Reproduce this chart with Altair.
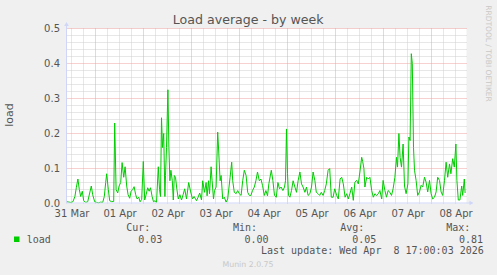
import altair as alt
import pandas as pd

# ---- data (hours since 2026-03-31 00:00, load) ----
hours = [
    9.7, 10.7, 11.7, 12.7, 13.7, 14.4, 15.2, 15.9, 16.6, 17.4,
    18.1, 19.1, 20.1, 21.1, 21.9, 22.6, 23.6, 24.6, 25.6, 26.6,
    27.6, 28.4, 29.1, 29.6, 30.4, 31.1, 32.1, 33.1, 33.6, 34.3,
    35.1, 35.8, 36.6, 37.3, 38.1, 38.8, 39.6, 40.3, 41.1, 41.8,
    42.6, 43.3, 44.1, 44.8, 45.6, 46.3, 47.1, 47.9, 48.6, 49.3,
    50.1, 50.8, 51.5, 52.3, 53.0, 53.8, 54.5, 55.4, 56.0, 56.5,
    57.0, 57.5, 58.1, 58.7, 59.0, 59.5, 60.2, 60.7, 61.2, 61.7,
    62.4, 62.9, 63.4, 64.0, 64.7, 65.4, 66.2, 67.0, 67.8, 68.6,
    69.5, 70.6, 71.6, 72.5, 73.3, 74.5, 75.3, 76.1, 77.0, 77.6,
    78.5, 79.3, 79.8, 80.5, 81.0, 81.8, 82.3, 83.0, 83.5, 84.3,
    85.1, 85.6, 86.3, 86.8, 87.6, 88.4, 89.3, 90.1, 91.3, 92.1,
    92.6, 93.4, 94.3, 95.1, 95.9, 96.8, 97.6, 98.4, 99.3, 100.1,
    100.9, 101.7, 102.5, 103.4, 104.2, 105.0, 105.9, 106.7, 107.5, 108.4,
    109.2, 110.0, 110.7, 111.9, 112.7, 113.5, 114.4, 115.2, 116.0, 116.8,
    117.7, 118.5, 119.0, 119.5, 120.0, 120.5, 121.2, 122.0, 122.8, 123.7,
    124.5, 125.3, 126.2, 127.0, 127.8, 128.7, 129.5, 130.3, 131.2, 132.0,
    132.8, 133.7, 134.4, 135.3, 136.1, 136.9, 137.8, 138.6, 139.4, 140.3,
    141.1, 141.9, 142.8, 143.6, 144.6, 145.4, 146.3, 147.1, 147.9, 148.8,
    149.6, 150.4, 151.2, 152.1, 152.9, 153.7, 154.6, 155.4, 156.2, 157.1,
    157.6, 158.2, 158.7, 159.6, 160.4, 161.2, 162.1, 162.9, 163.7, 164.6,
    165.4, 166.2, 167.1, 167.8, 168.7, 169.5, 170.3, 171.2, 172.0, 172.8,
    173.7, 174.5, 175.0, 175.7, 176.3, 177.0, 177.8, 178.5, 179.3, 180.2,
    180.7, 181.3, 181.9, 182.4, 183.0, 183.5, 184.3, 185.1, 186.0, 186.8,
    187.6, 188.5, 189.3, 190.1, 191.0, 191.8, 192.6, 193.5, 194.3, 195.1,
    196.0, 196.8, 197.6, 198.5, 199.3, 200.1, 201.0, 201.7, 202.6, 203.4,
    204.2, 204.7, 205.4, 206.2, 207.1, 207.6, 208.4, 208.8,
]
load = [
    .005, .004, .003, .005, .02, .045, .07, .04, .02, .035,
    .008, .003, .005, .03, .05, .025, .005, .003, .002, .004,
    .003, .02, .06, .085, .04, .008, .005, .006, .23, .04,
    .03, .05, .06, .117, .075, .105, .05, .025, .015, .035,
    .04, .048, .025, .013, .018, .005, .012, .12, .01, .025,
    .045, .035, .045, .02, .005, .008, .003, .105, .04, .02,
    .245, .16, .2, .02, .08, .16, .325, .16, .065, .095,
    .065, .01, .08, .075, .04, .013, .025, .01, .025, .042,
    .013, .06, .033, .013, .02, .008, .018, .03, .01, .065,
    .032, .06, .022, .065, .028, .105, .065, .013, .037, .047,
    .204, .15, .065, .08, .013, .018, .004, .013, .075, .118,
    .065, .032, .028, .037, .028, .023, .065, .095, .08, .032,
    .023, .023, .037, .047, .065, .09, .065, .07, .052, .023,
    .037, .022, .057, .095, .065, .023, .018, .06, .042, .047,
    .037, .047, .065, .213, .085, .023, .018, .037, .065, .047,
    .032, .065, .09, .056, .047, .032, .047, .023, .028, .047,
    .09, .065, .032, .028, .023, .032, .023, .037, .056, .095,
    .1, .018, .018, .042, .023, .013, .07, .075, .056, .018,
    .028, .013, .028, .047, .009, .061, .066, .056, .09, .132,
    .12, .1, .047, .075, .07, .075, .037, .018, .028, .023,
    .028, .037, .013, .066, .037, .018, .037, .032, .023, .042,
    .075, .132, .104, .2, .132, .104, .17, .05, .028, .056,
    .19, .18, .428, .4, .16, .095, .066, .023, .033, .052,
    .047, .075, .061, .033, .066, .028, .013, .018, .033, .075,
    .066, .033, .023, .066, .118, .075, .113, .085, .128, .104,
    .17, .066, .01, .01, .05, .023, .07, .03,
]
assert len(hours) == len(load)

x_domain = [9.5, 209.5]
y_domain = [0, 0.5]
x_tick_hours = [12, 36, 60, 84, 108, 132, 156, 180, 204]
x_tick_labels = ["31 Mar", "01 Apr", "02 Apr", "03 Apr", "04 Apr",
                 "05 Apr", "06 Apr", "07 Apr", "08 Apr"]
y_tick_values = [0.0, 0.1, 0.2, 0.3, 0.4, 0.5]

major_y = [0.1, 0.2, 0.3, 0.4, 0.5]
minor_y = [round(0.02 * i, 2) for i in range(1, 25) if i % 5]
major_x = [24 * d for d in range(1, 9)]
minor_x = [6 * k for k in range(2, 35) if k % 4]

title_text = "Load average - by week"
y_title = "load"
side_text = "RRDTOOL / TOBI OETIKER"
series_name = "load"
stat_names = ["Cur:", "Min:", "Avg:", "Max:"]
stat_values = ["0.03", "0.00", "0.05", "0.81"]
last_update = "Last update: Wed Apr\u00a0 8 17:00:03 2026"
footer = "Munin 2.0.75"

# ---- layout ----
W, H = 400, 175
L, T = 66.5, 28.5
PAD = {"left": L, "top": T, "right": 497 - L - W, "bottom": 275 - T - H}
GREEN = "#00CC00"
TXT = "#555555"
AXIS = "#CFD6F8"
SANS = "DejaVu Sans"
MONO = "DejaVu Sans Mono"

df = pd.DataFrame({"hour": hours, "load": load})
xs = alt.Scale(domain=x_domain, nice=False, zero=False)
ys = alt.Scale(domain=y_domain, nice=False, zero=False)

label_expr = ("[" + ",".join(f"'{s}'" for s in x_tick_labels) + "][indexof(["
              + ",".join(str(h) for h in x_tick_hours) + "], datum.value)]")
x_axis = alt.Axis(values=x_tick_hours, labelExpr=label_expr, ticks=False, domain=False,
                  grid=False, labelFont=SANS, labelFontSize=10, labelColor=TXT,
                  labelPadding=5, title=None, labelFlush=False, labelOverlap=False)
y_axis = alt.Axis(values=y_tick_values, format=".1f", ticks=False, domain=False,
                  grid=False, labelFont=SANS, labelFontSize=10, labelColor=TXT,
                  labelPadding=7, title=None, labelOverlap=False)


def vrules(vals, color):
    return alt.Chart(pd.DataFrame({"v": vals})).mark_rule(
        color=color, strokeWidth=1, strokeDash=[1, 1]
    ).encode(x=alt.X("v:Q", scale=xs, axis=x_axis))


def hrules(vals, color):
    return alt.Chart(pd.DataFrame({"v": vals})).mark_rule(
        color=color, strokeWidth=1, strokeDash=[1, 1]
    ).encode(y=alt.Y("v:Q", scale=ys, axis=y_axis))


def label(text, x, y, size, font, color, align="left", baseline="alphabetic", angle=0):
    return alt.Chart(pd.DataFrame({"t": [text]})).mark_text(
        align=align, baseline=baseline, fontSize=size, font=font,
        color=color, angle=angle
    ).encode(x=alt.value(x), y=alt.value(y), text="t:N")


line = alt.Chart(df).mark_line(color=GREEN, strokeWidth=1).encode(
    x=alt.X("hour:Q", scale=xs, axis=x_axis),
    y=alt.Y("load:Q", scale=ys, axis=y_axis),
)

one = pd.DataFrame({"a": [0]})
yaxis_line = alt.Chart(one).mark_rule(color=AXIS, strokeWidth=1).encode(
    x=alt.value(0), y=alt.value(-3), y2=alt.value(H))
xaxis_line = alt.Chart(one).mark_rule(color=AXIS, strokeWidth=1).encode(
    x=alt.value(0), x2=alt.value(W + 4), y=alt.value(H - 0.5))
yarrow = alt.Chart(one).mark_point(shape="triangle-up", filled=True, size=22,
                                   color=AXIS, opacity=1).encode(
    x=alt.value(0), y=alt.value(-4.5))
xarrow = alt.Chart(one).mark_point(shape="triangle-right", filled=True, size=22,
                                   color=AXIS, opacity=1).encode(
    x=alt.value(W + 5), y=alt.value(H - 0.5))

swatch = alt.Chart(one).mark_rect(color=GREEN).encode(
    x=alt.value(-52.5), x2=alt.value(-47), y=alt.value(208), y2=alt.value(213.5))

stat_x = [59.8, 166.4, 273.8, 379.8]
val_x = [71.8, 178.0, 285.8, 392.4]
texts = [
    label(title_text, 181.7, -4.2, 12.6, SANS, TXT, align="center"),
    label(y_title, -56.5, 86.5, 11, SANS, TXT, align="center", baseline="middle", angle=270),
    label(side_text, 421.5, 25, 7.5, SANS, "#C8C8C8", align="center", baseline="middle", angle=90),
    label(series_name, -39.8, 214.2, 10, MONO, TXT),
    label(last_update, 194.5, 225.5, 10, MONO, TXT),
    label(footer, 181.5, 238.2, 7.8, SANS, "#C8C8C8", align="center"),
]
for n, xv in zip(stat_names, stat_x):
    texts.append(label(n, xv, 202.5, 10, MONO, TXT))
for v, xv in zip(stat_values, val_x):
    texts.append(label(v, xv, 214.2, 10, MONO, TXT))

chart = alt.layer(
    hrules(minor_y, "#CFCFCF"),
    vrules(minor_x, "#CFCFCF"),
    hrules(major_y, "#EEA0A0"),
    vrules(major_x, "#EEA0A0"),
    line,
    yaxis_line, xaxis_line, yarrow, xarrow, swatch,
    *texts,
).properties(
    width=W, height=H, padding=PAD,
    autosize=alt.AutoSizeParams(type="none"),
    background="#F0F0F0",
).configure_view(fill="#FFFFFF", stroke=None)

chart.save("out.html", embed_options={"renderer": "svg", "actions": False})
